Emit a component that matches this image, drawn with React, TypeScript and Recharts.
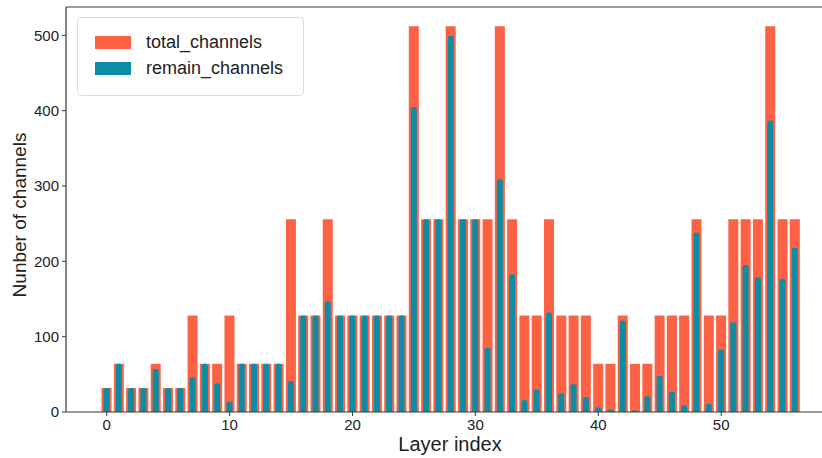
import React from "react";
import {
  BarChart,
  Bar,
  XAxis,
  YAxis,
  Legend,
  ReferenceLine,
} from "recharts";

// channels per layer
const totalChannels = [
  32, 64, 32, 32, 64, 32, 32, 128, 64, 64, 128, 64, 64, 64, 64, 256, 128, 128,
  256, 128, 128, 128, 128, 128, 128, 512, 256, 256, 512, 256, 256, 256, 512,
  256, 128, 128, 256, 128, 128, 128, 64, 64, 128, 64, 64, 128, 128, 128, 256,
  128, 128, 256, 256, 256, 512, 256, 256,
];
const remainChannels = [
  32, 64, 32, 32, 57, 32, 32, 46, 64, 38, 14, 64, 64, 64, 64, 41, 128, 128,
  147, 128, 128, 128, 128, 128, 128, 405, 256, 256, 499, 256, 256, 85, 309,
  183, 16, 30, 132, 25, 37, 20, 6, 3, 121, 2, 21, 48, 27, 9, 238, 11, 83, 119,
  195, 179, 387, 177, 218,
];
const xTicks = [0, 10, 20, 30, 40, 50];
const yTicks = [0, 100, 200, 300, 400, 500];

const ORANGE = "#FE6245";
const TEAL = "#0A8DA5";
const FONT = "'Liberation Sans', Arial, sans-serif";
const AXIS = "#3a3a3a";

const data = totalChannels.map((t, i) => ({
  layer: i,
  total: t,
  remain: remainChannels[i],
}));

const renderLegend = () => {
  const items = [
    { label: "total_channels", color: ORANGE },
    { label: "remain_channels", color: TEAL },
  ];
  return (
    <div
      style={{
        width: 227,
        height: 79,
        boxSizing: "border-box",
        border: "1px solid #dcdcdc",
        borderRadius: 4,
        background: "rgba(255,255,255,0.85)",
        padding: "11px 0 0 17px",
        fontFamily: FONT,
        fontSize: 18,
        color: "#222",
      }}
    >
      {items.map((it) => (
        <div
          key={it.label}
          style={{ display: "flex", alignItems: "center", height: 26 }}
        >
          <div
            style={{
              width: 36,
              height: 13,
              background: it.color,
              marginRight: 15,
            }}
          />
          <span>{it.label}</span>
        </div>
      ))}
    </div>
  );
};

export default function App() {
  return (
    <div
      style={{
        position: "absolute",
        left: 0,
        top: 0,
        width: 822,
        height: 458,
        overflow: "hidden",
        background: "white",
      }}
    >
      <BarChart
        width={822}
        height={458}
        data={data}
        margin={{ top: 7, right: 0, bottom: 0, left: 0 }}
      >
        <XAxis
          xAxisId="main"
          dataKey="layer"
          type="number"
          domain={[-3.31, 58.2]}
          allowDataOverflow
          ticks={xTicks}
          height={46}
          tickSize={4}
          tickMargin={3}
          axisLine={{ stroke: AXIS, strokeWidth: 1.2 }}
          tickLine={{ stroke: AXIS }}
          tick={{ fill: "#222", fontSize: 15, fontFamily: FONT }}
        />
        <XAxis
          xAxisId="over"
          dataKey="layer"
          type="number"
          domain={[-3.31, 58.2]}
          allowDataOverflow
          hide
        />
        <YAxis
          type="number"
          domain={[0, 537.6]}
          ticks={yTicks}
          width={66}
          tickSize={4}
          tickMargin={3}
          axisLine={{ stroke: AXIS, strokeWidth: 1.2 }}
          tickLine={{ stroke: AXIS }}
          tick={{ fill: "#222", fontSize: 15, fontFamily: FONT }}
        />
        <ReferenceLine
          xAxisId="main"
          y={537.6}
          stroke={AXIS}
          strokeWidth={1.2}
        />
        <Legend
          layout="horizontal"
          verticalAlign="middle"
          align="center"
          content={renderLegend}
          wrapperStyle={{ left: 77, top: 17, width: 227 }}
        />
        <Bar
          xAxisId="main"
          dataKey="total"
          name="total_channels"
          fill={ORANGE}
          barSize={10}
          isAnimationActive={false}
        />
        <Bar
          xAxisId="over"
          dataKey="remain"
          name="remain_channels"
          fill={TEAL}
          barSize={6}
          radius={[2, 2, 0, 0]}
          isAnimationActive={false}
        />
        <text
          x={450}
          y={451}
          textAnchor="middle"
          fontSize={20}
          fontFamily={FONT}
          fill="#222"
        >
          Layer index
        </text>
        <text
          x={26}
          y={215}
          textAnchor="middle"
          fontSize={19}
          fontFamily={FONT}
          fill="#222"
          transform="rotate(-90 26 215)"
        >
          Nunber of channels
        </text>
      </BarChart>
    </div>
  );
}
